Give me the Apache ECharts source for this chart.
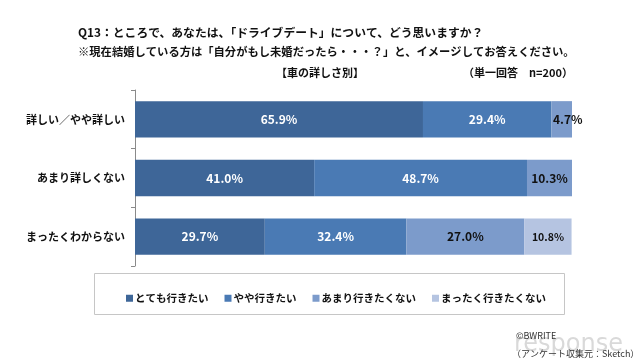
<!DOCTYPE html>
<html><head><meta charset="utf-8">
<script src="https://cdn.jsdelivr.net/npm/echarts@6/dist/echarts.min.js"></script>
<style>html,body{margin:0;padding:0;background:#fff}#c{width:640px;height:361px}</style>
</head><body><div id="c"></div>
<script>
const categories = ['詳しい／やや詳しい', 'あまり詳しくない', 'まったくわからない'];
const seriesNames = ['とても行きたい', 'やや行きたい', 'あまり行きたくない', 'まったく行きたくない'];
const veryWant = [65.9, 41.0, 29.7];
const somewhatWant = [29.4, 48.7, 32.4];
const notMuch = [4.7, 10.3, 27.0];
const notAtAll = [null, null, 10.8];
const titleLine1 = 'Q13：ところで、あなたは、「ドライブデート」について、どう思いますか？';
const titleLine2 = '※現在結婚している方は「自分がもし未婚だったら・・・？」と、イメージしてお答えください。';
const subTitle = '【車の詳しさ別】';
const noteText = '（単一回答　n=200）';
const credit1 = '©BWRITE';
const credit2 = '（アンケート収集元：Sketch）';

const colors = ['#3e6698', '#4a7ab4', '#7c9bcb', '#b5c4e1'];
const FF = '"Noto Sans CJK JP", "Noto Sans", sans-serif';
const allData = [veryWant, somewhatWant, notMuch, notAtAll];
const labelColors = ['#ffffff', '#ffffff', '#111111', '#111111'];
const labelSizes = [12, 12, 12, 10.5];

const chart = echarts.init(document.getElementById('c'), null, {renderer: 'canvas'});
const series = allData.map((d, i) => ({
  name: seriesNames[i],
  type: 'bar',
  stack: 'total',
  barCategoryGap: '38%',
  itemStyle: {color: colors[i]},
  label: {
    show: true,
    position: 'inside',
    color: labelColors[i],
    fontSize: labelSizes[i],
    fontWeight: 'bold',
    fontFamily: FF,
    formatter: p => (p.value == null || p.value === 0) ? '' : p.value.toFixed(1) + '%'
  },
  data: d.map((v, j) => (i === 2 && j === 0) ? {value: v, label: {offset: [6, 0]}} : v)
}));

chart.setOption({
  animation: false,
  textStyle: {fontFamily: FF},
  grid: {left: 135, right: 68, top: 90, bottom: 95},
  xAxis: {type: 'value', min: 0, max: 100, show: false},
  yAxis: {
    type: 'category',
    data: categories,
    inverse: true,
    axisLine: {show: true, lineStyle: {color: '#8a8a8a', width: 1}},
    axisTick: {show: true, length: 4, lineStyle: {color: '#8a8a8a'}},
    axisLabel: {color: '#111', fontSize: 11, fontWeight: 'bold', fontFamily: FF, margin: 10}
  },
  legend: {
    data: seriesNames,
    left: 121, top: 288,
    itemWidth: 7, itemHeight: 7, itemGap: 16,
    icon: 'rect',
    textStyle: {color: '#111', fontSize: 10.5, fontWeight: 'bold', fontFamily: FF, padding: [0, 0, 0, -3]}
  },
  graphic: [
    {type: 'rect', shape: {x: 94.5, y: 273.5, width: 470, height: 41}, style: {fill: 'none', stroke: '#c6c6c6', lineWidth: 1}, z: -1},
    {type: 'text', style: {text: titleLine1, x: 78, y: 33, textVerticalAlign: 'middle', font: 'bold 11.8px ' + FF, fill: '#111'}},
    {type: 'text', style: {text: titleLine2, x: 78, y: 52, textVerticalAlign: 'middle', font: 'bold 11.3px ' + FF, fill: '#111'}},
    {type: 'text', style: {text: subTitle, x: 320, y: 73, textAlign: 'center', textVerticalAlign: 'middle', font: 'bold 11px ' + FF, fill: '#111'}},
    {type: 'text', style: {text: noteText, x: 573, y: 73, textAlign: 'right', textVerticalAlign: 'middle', font: 'bold 11px ' + FF, fill: '#111'}},
    {type: 'text', style: {text: 'response', x: 514, y: 345, textVerticalAlign: 'middle', font: '24px "DejaVu Sans", sans-serif', fill: 'rgba(160,160,160,0.4)'}},
    {type: 'text', style: {text: credit1, x: 516, y: 336, textVerticalAlign: 'middle', font: '9px ' + FF, fill: '#333'}},
    {type: 'text', style: {text: credit2, x: 512, y: 354, textVerticalAlign: 'middle', font: '9px ' + FF, fill: '#333'}}
  ],
  series: series
});
</script></body></html>
